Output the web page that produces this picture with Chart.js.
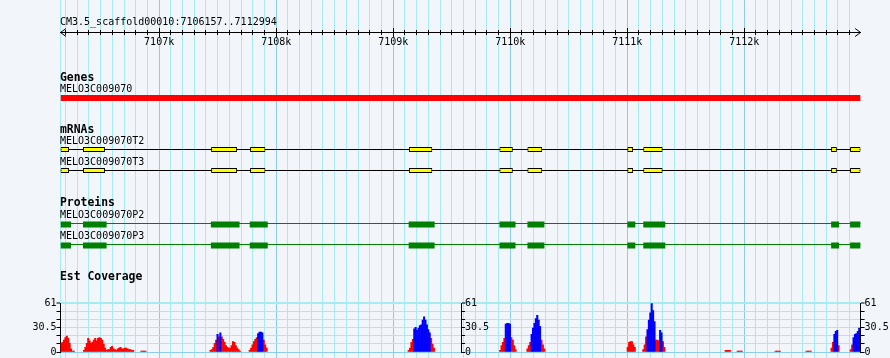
<!DOCTYPE html>
<html><head><meta charset="utf-8">
<script src="https://cdn.jsdelivr.net/npm/chart.js@4.4.1/dist/chart.umd.min.js"></script>
<style>
html,body{margin:0;padding:0;width:890px;height:358px;overflow:hidden;background:#f2f6fa;}
#wrap{position:relative;width:890px;height:358px;overflow:hidden;}
canvas{display:block;position:absolute;}
.txt{position:absolute;font-family:'DejaVu Sans Mono',monospace;font-size:10px;line-height:12px;color:#000;white-space:pre;}
.txt.b{font-weight:bold;font-size:11.4px;line-height:13px;}
</style></head><body><div id="wrap"></div>
<script>
// ---------------- data ----------------
const regionName = 'CM3.5_scaffold00010';
const regionStart = 7106157;
const regionEnd = 7112994;
const rulerTickValues = [7107000, 7108000, 7109000, 7110000, 7111000, 7112000];
const rulerTickLabels = ['7107k', '7108k', '7109k', '7110k', '7111k', '7112k'];

const trackTitles = ['Genes', 'mRNAs', 'Proteins', 'Est Coverage'];

const geneNames = ['MELO3C009070'];
const geneStarts = [7106157];
const geneEnds = [7112994];

const transcriptNames = ['MELO3C009070T2', 'MELO3C009070T3'];
const t2ExonStarts = [7106157, 7106349, 7107444, 7107777, 7109134, 7109908, 7110147, 7111001, 7111137, 7112742, 7112904];
const t2ExonEnds   = [7106230, 7106537, 7107666, 7107908, 7109334, 7110022, 7110273, 7111050, 7111302, 7112791, 7112994];
const t3ExonStarts = [7106157, 7106349, 7107444, 7107777, 7109134, 7109908, 7110147, 7111001, 7111137, 7112742, 7112904];
const t3ExonEnds   = [7106230, 7106537, 7107666, 7107908, 7109334, 7110022, 7110273, 7111050, 7111302, 7112791, 7112994];

const proteinNames = ['MELO3C009070P2', 'MELO3C009070P3'];
const p2CdsStarts = [7106157, 7106349, 7107442, 7107774, 7109132, 7109908, 7110147, 7111001, 7111137, 7112742, 7112904];
const p2CdsEnds   = [7106247, 7106551, 7107687, 7107928, 7109354, 7110045, 7110292, 7111069, 7111325, 7112810, 7112994];
const p3CdsStarts = [7106157, 7106349, 7107442, 7107774, 7109132, 7109908, 7110147, 7111001, 7111137, 7112742, 7112904];
const p3CdsEnds   = [7106247, 7106551, 7107687, 7107928, 7109354, 7110045, 7110292, 7111069, 7111325, 7112810, 7112994];

// EST coverage, bins of covBinSize bp starting at each segment start
const covBinSize = 12;
const covSegmentStarts = [7106157, 7106352, 7106842, 7107433, 7107768, 7109126, 7109908, 7110141,
                          7110998, 7111131, 7111835, 7111937, 7112262, 7112526, 7112740, 7112904];
const covRed = [
  [11, 12, 15, 18, 20, 17, 11, 4, 1, 1],
  [2, 6, 11, 17, 14, 11, 12, 15, 17, 14, 17, 18, 17, 15, 10, 5, 2, 3, 3, 6, 7, 4, 3, 2, 4, 5, 6, 4, 4, 5, 5, 4, 3, 3, 2, 2],
  [1, 1, 1, 1],
  [2, 3, 6, 11, 15, 0, 19, 0, 19, 16, 12, 8, 6, 5, 5, 8, 13, 12, 8, 5, 3, 1],
  [2, 5, 9, 13, 16, 18, 0, 0, 0, 0, 15, 9, 5],
  [2, 5, 12, 16, 0, 0, 0, 0, 0, 0, 0, 0, 0, 0, 0, 0, 17, 10, 5],
  [2, 8, 12, 17, 0, 0, 0, 0, 18, 15, 8, 3],
  [4, 8, 12, 0, 0, 0, 0, 0, 0, 0, 15, 9, 4],
  [6, 12, 13, 13, 9, 6],
  [3, 9, 19, 0, 0, 0, 0, 0, 0, 15, 15, 14, 0, 0, 13, 6],
  [2, 2, 2, 2],
  [1, 1, 1, 1],
  [1, 1, 1, 1],
  [1, 1, 1, 1],
  [5, 12, 0, 0, 0, 8],
  [3, 9, 0, 0, 0, 0, 0]
];
const covBlue = [
  [0, 0, 0, 0, 0, 0, 0, 0, 0, 0],
  [0, 0, 0, 0, 0, 0, 0, 0, 0, 0, 0, 0, 0, 0, 0, 0, 0, 0, 0, 0, 0, 0, 0, 0, 0, 0, 0, 0, 0, 0, 0, 0, 0, 0, 0, 0],
  [0, 0, 0, 0],
  [0, 0, 0, 0, 0, 22, 0, 24, 0, 0, 0, 0, 0, 0, 0, 0, 0, 0, 0, 0, 0, 0],
  [0, 0, 0, 0, 0, 0, 23, 25, 25, 24, 0, 0, 0],
  [0, 0, 0, 0, 29, 31, 27, 30, 33, 34, 40, 44, 40, 34, 28, 24, 0, 0, 0],
  [0, 0, 0, 0, 35, 36, 36, 35, 0, 0, 0, 0],
  [0, 0, 0, 22, 30, 36, 42, 46, 40, 32, 0, 0, 0],
  [0, 0, 0, 0, 0, 0],
  [0, 0, 0, 28, 40, 49, 61, 52, 38, 0, 0, 0, 27, 24, 0, 0],
  [0, 0, 0, 0],
  [0, 0, 0, 0],
  [0, 0, 0, 0],
  [0, 0, 0, 0],
  [0, 0, 22, 26, 27, 0],
  [0, 0, 18, 22, 23, 26, 30]
];
const covTickValues = [0, 10.17, 20.33, 30.5, 40.67, 50.83, 61];
const covTickLabels = ['0', '', '', '30.5', '', '', '61'];
const covMax = 61;

// ---------------- style / layout ----------------
const W = 890;
const PLOT_LEFT = 60.5, PLOT_RIGHT = 860.6;
const PAD_RIGHT = W - PLOT_RIGHT;
const MINOR = '#a6ebf0', MAJOR = '#8dcdec';
const FONT = "'DejaVu Sans Mono', monospace";

Chart.defaults.font.family = FONT;
Chart.defaults.font.size = 10;
Chart.defaults.color = '#000';
Chart.defaults.animation = false;
Chart.defaults.responsive = false;
Chart.defaults.events = [];
Chart.defaults.plugins.legend.display = false;
Chart.defaults.plugins.tooltip.enabled = false;

const wrap = document.getElementById('wrap');
function makeCanvas(top, height, width = W, left = 0) {
  const c = document.createElement('canvas');
  c.width = width; c.height = Math.ceil(height);
  c.style.left = left + 'px'; c.style.top = top + 'px';
  c.style.width = width + 'px'; c.style.height = Math.ceil(height) + 'px';
  wrap.appendChild(c);
  return c;
}
function addText(text, left, top, bold) {
  const d = document.createElement('div');
  d.className = 'txt' + (bold ? ' b' : '');
  d.textContent = text;
  d.style.left = left + 'px'; d.style.top = top + 'px';
  wrap.appendChild(d);
}
const xRange = {type: 'linear', min: regionStart, max: regionEnd, offset: false};

// ---- background grid (every 100 bp) ----
new Chart(makeCanvas(0, 358), {
  type: 'scatter', data: {datasets: []},
  options: {
    devicePixelRatio: 1,
    layout: {padding: {left: PLOT_LEFT, right: PAD_RIGHT, top: 0, bottom: 0}},
    scales: {
      x: Object.assign({}, xRange, {
        position: 'bottom',
        ticks: {display: false, stepSize: 100, includeBounds: false, autoSkip: false},
        afterFit: s => { s.height = 0; },
        border: {display: false},
        grid: {offset: false, drawTicks: false, lineWidth: 1,
               color: c => (c.tick && c.tick.value % 1000 === 0) ? MAJOR : MINOR}
      }),
      y: {position: 'left', min: 0, max: 1, afterFit: s => { s.width = 0; },
          ticks: {display: false}, grid: {display: false},
          border: {display: true, color: MINOR, width: 1}}
    }
  }
});

// ---- ruler: minor ticks ----
const arrowPlugin = {
  id: 'rulerArrows',
  afterDraw(chart) {
    const ctx = chart.ctx, a = chart.chartArea, y = 32.5;
    ctx.save();
    ctx.strokeStyle = '#000'; ctx.lineWidth = 1;
    ctx.beginPath();
    ctx.moveTo(a.left + 5.5, y - 4); ctx.lineTo(a.left, y); ctx.lineTo(a.left + 5.5, y + 4);
    ctx.moveTo(a.right - 5.5, y - 4); ctx.lineTo(a.right, y); ctx.lineTo(a.right - 5.5, y + 4);
    ctx.stroke();
    ctx.restore();
  }
};
new Chart(makeCanvas(0, 52), {
  type: 'scatter', data: {datasets: []},
  options: {
    devicePixelRatio: 1,
    layout: {padding: {left: PLOT_LEFT, right: PAD_RIGHT, top: 30, bottom: 0}},
    scales: {
      x: Object.assign({}, xRange, {
        position: 'bottom',
        ticks: {display: false, stepSize: 100, includeBounds: false, autoSkip: false},
        afterFit: s => { s.height = 52 - 32.5; },
        border: {display: true, color: '#000', width: 1},
        grid: {offset: false, color: '#000', tickColor: '#000', tickLength: 2.5, lineWidth: 1}
      }),
      y: {display: false, min: 0, max: 1}
    }
  },
  plugins: [arrowPlugin]
});
// ---- ruler: major ticks + labels ----
new Chart(makeCanvas(0, 52), {
  type: 'scatter', data: {datasets: []},
  options: {
    devicePixelRatio: 1,
    layout: {padding: {left: PLOT_LEFT, right: PAD_RIGHT, top: 28, bottom: 0}},
    scales: {
      x: Object.assign({}, xRange, {
        position: 'bottom',
        afterBuildTicks: s => { s.ticks = rulerTickValues.map(v => ({value: v})); },
        ticks: {autoSkip: false, maxRotation: 0, padding: -1, font: {size: 10},
                callback: (v, i) => rulerTickLabels[i]},
        afterFit: s => { s.height = 52 - 32.5; },
        border: {display: true, color: '#000', width: 1},
        grid: {offset: false, color: '#000', tickColor: '#000', tickLength: 4.5, lineWidth: 1}
      }),
      y: {display: false, min: 0, max: 1}
    }
  }
});

// ---- feature tracks (horizontal floating bars) ----
function trackChart(top, height, labels, datasets) {
  return new Chart(makeCanvas(top, height), {
    type: 'bar',
    data: {labels, datasets},
    options: {
      devicePixelRatio: 1,
      indexAxis: 'y',
      layout: {padding: {left: PLOT_LEFT, right: PAD_RIGHT, top: 0, bottom: Math.ceil(height) - height}},
      scales: {
        x: Object.assign({}, xRange, {display: false}),
        y: {type: 'category', display: false, offset: true}
      }
    }
  });
}
function spans(names, startsList, endsList) {
  const out = [];
  names.forEach((n, k) => startsList[k].forEach((s, i) => out.push({x: [s, endsList[k][i]], y: n})));
  return out;
}

trackChart(90, 16, geneNames, [{
  data: geneNames.map((n, i) => ({x: [geneStarts[i], geneEnds[i]], y: n})),
  backgroundColor: '#ff0000', borderWidth: 0, grouped: false, maxBarThickness: 6
}]);

trackChart(139, 42, transcriptNames, [
  {data: spans(transcriptNames, [t2ExonStarts, t3ExonStarts], [t2ExonEnds, t3ExonEnds]),
   backgroundColor: '#ffff00', borderColor: '#000', borderWidth: 1, borderSkipped: false,
   grouped: false, maxBarThickness: 5, order: 0},
  {data: transcriptNames.map(n => ({x: [regionStart, regionEnd], y: n})),
   backgroundColor: '#000', borderWidth: 0, grouped: false, maxBarThickness: 1, order: 1}
]);

// protein backbone lines, then CDS boxes
trackChart(213, 42, proteinNames, [
  {data: proteinNames.map(n => ({x: [regionStart, regionEnd], y: n})),
   backgroundColor: '#008000', borderWidth: 0, grouped: false, maxBarThickness: 1}
]);
trackChart(213.5, 42, proteinNames, [
  {data: spans(proteinNames, [p2CdsStarts, p3CdsStarts], [p2CdsEnds, p3CdsEnds]),
   backgroundColor: '#008000', borderWidth: 0, grouped: false, maxBarThickness: 6}
]);

// ---- EST coverage ----
const redPts = [], bluePts = [];
covSegmentStarts.forEach((s, k) => {
  covRed[k].forEach((v, i) => {
    const x = s + i * covBinSize + covBinSize / 2;
    redPts.push({x, y: v || null});
    bluePts.push({x, y: covBlue[k][i] || null});
  });
});
const covY = (pos, width, onArea) => ({
  position: pos, min: 0, max: covMax,
  afterBuildTicks: s => { s.ticks = covTickValues.map(v => ({value: v})); },
  afterFit: s => { s.width = width; },
  ticks: {autoSkip: false, padding: 0, font: {size: 10}, callback: (v, i) => covTickLabels[i]},
  border: {display: true, color: '#000', width: 1},
  grid: {drawOnChartArea: onArea, tickLength: 4, tickWidth: 1, tickColor: '#000',
         color: c => (c.tick && c.tick.value === 0) ? MAJOR : MINOR,
         lineWidth: c => (c.tick && c.tick.value === covMax) ? 2 : 1}
});
new Chart(makeCanvas(265, 100), {
  type: 'bar',
  data: {datasets: [
    {data: bluePts, backgroundColor: '#0000ff', grouped: false, barPercentage: 1, categoryPercentage: 1, order: 0},
    {data: redPts, backgroundColor: '#ff0000', grouped: false, barPercentage: 1, categoryPercentage: 1, order: 1}
  ]},
  options: {
    devicePixelRatio: 1,
    layout: {padding: {left: 0, right: 0, top: 38.3, bottom: 13}},
    scales: {
      x: Object.assign({}, xRange, {display: false, grid: {offset: false}}),
      y: covY('left', PLOT_LEFT, true),
      y2: covY('right', PAD_RIGHT, false)
    }
  }
});
// middle scale of the coverage track (at the centre of the region)
new Chart(makeCanvas(265, 100, 490), {
  type: 'scatter', data: {datasets: []},
  options: {
    devicePixelRatio: 1,
    layout: {padding: {left: PLOT_LEFT, right: 0, top: 38.3, bottom: 13}},
    scales: {
      x: {type: 'linear', min: regionStart, max: (regionStart + regionEnd) / 2, display: false, offset: false},
      y: covY('right', 29, false)
    }
  }
});

// ---- text ----
addText(regionName + ':' + regionStart + '..' + regionEnd, 60, 15.5, false);
addText(trackTitles[0], 60, 70.5, true);
addText(geneNames[0], 60, 82.5, false);
addText(trackTitles[1], 60, 122.5, true);
addText(transcriptNames[0], 60, 134.5, false);
addText(transcriptNames[1], 60, 155.5, false);
addText(trackTitles[2], 60, 195.5, true);
addText(proteinNames[0], 60, 208.5, false);
addText(proteinNames[1], 60, 229.5, false);
addText(trackTitles[3], 60, 269.5, true);
</script>
</body></html>
